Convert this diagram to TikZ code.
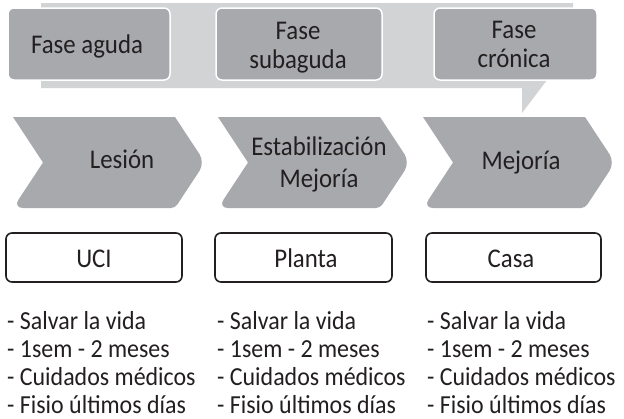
\documentclass[tikz,border=0pt]{standalone}
\usepackage{fontspec}
\setmainfont{Carlito}[FakeStretch=0.92]
\definecolor{bandgray}{HTML}{D1D3D4}
\definecolor{boxgray}{HTML}{A7A9AC}
\definecolor{ink}{HTML}{231F20}
\begin{document}
\begin{tikzpicture}[x=1pt,y=-1pt,
  lbl/.style={inner sep=0pt, text=ink, font=\fontsize{27}{30}\selectfont, anchor=base},
  item/.style={inner sep=0pt, text=ink, font=\fontsize{26}{28}\selectfont, anchor=base west},
  phasebox/.style={rectangle, fill=boxgray, draw=white, line width=1.5pt, rounded corners=6pt, inner sep=0pt, minimum height=72pt},
  placebox/.style={rectangle, draw=ink, line width=1.6pt, rounded corners=6pt, inner sep=0pt, fill=white, minimum height=49pt},
  chev/.style={fill=boxgray}]
\useasboundingbox[fill=white] (0,0) rectangle (624,418);
% background band with pointer
\fill[bandgray] (41,3) -- (573,3) -- (573,80) -- (547,80) -- (522,113) -- (522,88) -- (41,88) -- cycle;
% phase boxes
\node[phasebox, minimum width=162pt] (p1) at (89,44) {};
\node[phasebox, minimum width=166pt] (p2) at (299,44) {};
\node[phasebox, minimum width=163pt] (p3) at (515.5,44) {};
\node[lbl] (p1t) at (87,53) {Fase aguda};
\node[lbl] (p2a) at (298,39) {Fase};
\node[lbl] (p2b) at (298,68) {subaguda};
\node[lbl] (p3a) at (514,38) {Fase};
\node[lbl] (p3b) at (514,67) {crónica};
% chevrons
\foreach \x in {13,218,423}{
  \fill[chev] (\x,117) -- (\x+162,117) [rounded corners=10pt] -- (\x+192,162.5) [rounded corners=4pt] -- (\x+162,208) [rounded corners=10pt] -- (\x,208) [sharp corners] -- (\x+30,162.5) -- cycle;
}
\node[lbl] (c1) at (122,168) {Lesión};
\node[lbl] (c2a) at (319,155) {Estabilización};
\node[lbl] (c2b) at (319,187) {Mejoría};
\node[lbl] (c3) at (521,169) {Mejoría};
% place boxes
\node[placebox, minimum width=176pt] (b1) at (94,257.5) {};
\node[placebox, minimum width=177pt] (b2) at (303.5,257.5) {};
\node[placebox, minimum width=175pt] (b3) at (513.5,257.5) {};
\node[lbl] (b1t) at (94,267) {UCI};
\node[lbl] (b2t) at (306,267) {Planta};
\node[lbl] (b3t) at (511,267) {Casa};
% lists
\foreach \c/\x in {1/7,2/217,3/427}{
  \node[item] (l\c a) at (\x,329.5) {- Salvar la vida};
  \node[item] (l\c b) at (\x,357.5) {- 1sem - 2 meses};
  \node[item] (l\c c) at (\x,385.5) {- Cuidados médicos};
  \node[item] (l\c d) at (\x,413) {- Fisio últimos días};
}
\end{tikzpicture}
\end{document}
